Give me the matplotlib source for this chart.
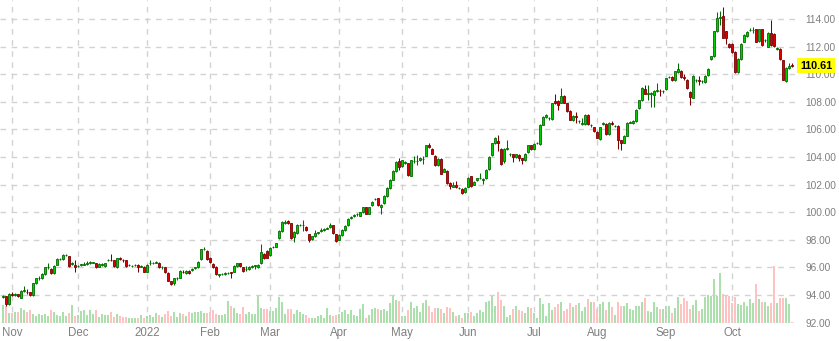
import numpy as np
import pandas as pd
import matplotlib
matplotlib.use('Agg')
import matplotlib.pyplot as plt
from matplotlib.transforms import blended_transform_factory

# daily OHLC (one value per weekday from 2021-10-27)
opens = [
    93.85, 93.90, 93.35, 94.10, 94.00, 94.05, 93.80, 94.30, 94.25, 94.20,
    94.00, 94.85, 95.20, 95.20, 95.50, 96.00, 95.90, 95.60, 96.20, 96.60,
    96.60, 96.90, 96.80, 96.25, 96.20, 96.10, 96.20, 96.20, 96.25, 96.35,
    96.35, 96.30, 96.05, 96.20, 96.10, 96.50, 96.55, 96.50, 96.00, 96.65,
    96.55, 96.50, 96.15, 96.10, 96.15, 96.20, 96.05, 96.05, 95.70, 96.30,
    96.30, 96.35, 96.35, 96.00, 96.00, 95.60, 95.00, 94.90, 95.20, 95.25,
    95.70, 95.60, 95.75, 95.80, 95.95, 96.00, 96.60, 97.30, 97.20, 96.70,
    96.25, 96.05, 95.45, 95.50, 95.50, 95.60, 95.65, 95.70, 96.10, 96.30,
    96.00, 95.85, 95.85, 96.05, 96.10, 96.00, 96.30, 97.00, 97.20, 96.90,
    97.45, 97.50, 98.10, 98.65, 99.25, 99.35, 99.20, 98.20, 98.50, 99.05,
    99.05, 98.95, 98.40, 98.05, 98.25, 98.50, 98.65, 98.70, 98.80, 98.90,
    99.05, 98.40, 98.00, 98.35, 98.70, 99.05, 99.60, 99.75, 99.85, 99.75,
    100.00, 100.35, 99.90, 100.50, 100.95, 101.00, 100.35, 100.65, 101.15, 101.75,
    102.35, 103.00, 103.70, 103.35, 103.60, 103.55, 102.65, 103.70, 103.70, 103.75,
    103.85, 104.10, 104.85, 104.60, 104.10, 103.40, 103.85, 102.95, 103.00, 102.15,
    101.85, 102.00, 101.75, 101.70, 101.45, 101.85, 102.60, 102.00, 102.30, 102.45,
    102.35, 102.45, 103.10, 104.15, 105.00, 105.15, 104.60, 103.70, 104.60, 104.20,
    104.20, 104.00, 104.15, 103.90, 103.75, 104.35, 104.85, 104.55, 105.00, 104.95,
    106.35, 106.90, 106.80, 106.75, 108.05, 108.05, 107.95, 108.45, 107.90, 107.35,
    106.65, 107.00, 106.60, 106.40, 106.40, 107.05, 106.30, 106.15, 105.80, 105.30,
    106.40, 106.40, 105.65, 106.50, 106.25, 106.25, 105.20, 105.05, 105.55, 106.50,
    106.45, 106.60, 107.55, 108.10, 108.90, 108.60, 108.60, 108.50, 108.80, 108.80,
    108.75, 108.90, 109.80, 109.80, 109.55, 110.15, 110.25, 109.80, 109.60, 108.70,
    108.30, 109.55, 109.55, 109.50, 109.45, 109.95, 111.10, 111.30, 113.10, 114.10,
    114.20, 113.10, 112.20, 112.20, 111.60, 110.15, 111.10, 112.35, 112.75, 113.20,
    113.20, 113.25, 112.40, 113.25, 112.45, 112.00, 113.00, 112.95, 111.85, 111.85,
    111.00, 109.50, 110.45, 110.65,
]
closes = [
    93.90, 93.35, 94.10, 94.00, 94.05, 93.95, 94.30, 94.30, 94.20, 94.00,
    94.85, 95.20, 95.25, 95.55, 96.00, 96.00, 95.60, 96.10, 96.60, 96.60,
    96.90, 96.90, 96.10, 96.30, 96.00, 96.10, 96.20, 96.25, 96.35, 96.35,
    96.35, 96.00, 96.25, 96.20, 96.30, 96.55, 96.50, 96.10, 96.65, 96.60,
    96.50, 96.10, 96.20, 96.10, 96.20, 96.00, 96.05, 95.70, 96.20, 96.30,
    96.35, 96.35, 96.00, 96.05, 95.65, 95.05, 94.80, 95.20, 95.25, 95.75,
    95.65, 95.75, 95.60, 95.90, 96.00, 96.40, 97.30, 97.35, 96.60, 96.40,
    96.00, 95.50, 95.50, 95.50, 95.60, 95.60, 95.60, 96.10, 96.30, 96.10,
    95.75, 95.85, 96.05, 96.05, 96.15, 96.20, 97.10, 96.70, 96.70, 97.40,
    97.45, 97.75, 98.65, 99.30, 99.25, 99.20, 98.10, 98.60, 99.10, 99.05,
    99.05, 98.70, 98.00, 98.25, 98.50, 98.50, 98.65, 98.80, 98.80, 99.10,
    98.50, 97.90, 98.35, 98.70, 99.00, 99.50, 99.60, 99.75, 99.85, 100.00,
    100.35, 99.90, 100.35, 100.75, 100.95, 100.50, 100.55, 101.20, 101.75, 102.35,
    103.00, 103.65, 103.25, 103.75, 103.60, 102.70, 103.75, 103.70, 103.70, 103.95,
    103.85, 104.85, 104.70, 104.25, 103.40, 103.85, 102.80, 103.15, 102.10, 101.90,
    102.00, 101.80, 101.75, 101.40, 101.75, 102.50, 101.90, 102.20, 102.45, 102.45,
    102.35, 103.05, 104.00, 105.00, 105.40, 105.00, 103.50, 104.60, 104.60, 104.20,
    104.00, 104.20, 103.95, 103.75, 104.25, 104.85, 104.55, 104.95, 105.00, 106.35,
    106.90, 107.05, 106.80, 107.90, 107.90, 107.75, 108.45, 107.95, 107.30, 106.70,
    107.00, 106.90, 106.60, 106.40, 107.05, 106.40, 106.30, 105.85, 105.40, 106.15,
    106.40, 105.65, 106.50, 106.40, 106.25, 105.20, 105.00, 105.55, 106.50, 106.50,
    106.60, 107.40, 108.10, 109.00, 108.60, 108.60, 108.60, 108.80, 108.80, 108.75,
    108.75, 109.70, 109.80, 109.55, 110.20, 110.40, 109.80, 109.75, 109.00, 108.35,
    109.90, 109.55, 109.50, 109.50, 109.90, 110.40, 111.30, 113.10, 114.10, 114.10,
    112.65, 112.60, 111.95, 111.60, 110.15, 111.10, 112.20, 112.85, 113.05, 113.20,
    113.20, 112.35, 113.25, 112.10, 112.45, 113.00, 112.10, 112.05, 111.85, 111.10,
    109.60, 110.45, 110.60, 110.61,
]
highs = [
    94.00, 93.95, 94.15, 94.20, 94.15, 94.10, 94.35, 94.65, 94.40, 94.25,
    94.90, 95.25, 95.35, 95.60, 96.05, 96.30, 95.95, 96.15, 96.65, 96.70,
    96.95, 96.95, 96.85, 96.40, 96.55, 96.20, 96.25, 96.40, 96.45, 96.45,
    96.40, 96.35, 96.30, 96.30, 96.35, 96.60, 96.95, 96.55, 96.70, 96.75,
    96.60, 96.55, 96.25, 96.20, 96.25, 96.25, 96.15, 96.10, 96.25, 96.50,
    96.40, 96.45, 96.40, 96.10, 96.05, 95.65, 95.05, 95.25, 95.30, 95.80,
    95.80, 95.80, 95.80, 95.95, 96.05, 96.45, 97.35, 97.45, 97.25, 96.75,
    96.30, 96.10, 95.55, 95.60, 95.65, 95.65, 95.70, 96.15, 96.35, 96.35,
    96.05, 96.10, 96.10, 96.15, 96.20, 96.25, 97.70, 97.05, 97.25, 97.45,
    97.55, 97.80, 98.70, 99.35, 99.40, 99.40, 99.25, 98.65, 99.15, 99.15,
    99.40, 99.00, 98.45, 98.30, 98.70, 98.60, 98.85, 98.85, 98.90, 99.20,
    99.10, 98.45, 98.40, 98.75, 99.05, 99.55, 99.70, 99.85, 99.95, 100.05,
    100.40, 100.40, 100.40, 100.80, 101.05, 101.05, 100.60, 101.25, 101.80, 102.40,
    103.05, 103.70, 103.90, 103.80, 103.70, 103.60, 103.80, 104.10, 104.15, 104.00,
    104.10, 104.90, 105.00, 104.65, 104.15, 103.90, 103.90, 103.20, 103.05, 102.20,
    102.20, 102.25, 101.85, 101.75, 101.80, 102.55, 102.65, 102.25, 102.50, 102.85,
    102.45, 103.10, 104.05, 105.05, 105.45, 105.60, 104.65, 104.65, 105.20, 104.30,
    104.25, 104.25, 104.20, 103.95, 104.30, 104.90, 104.90, 105.00, 105.10, 106.40,
    106.95, 107.10, 106.90, 107.95, 108.60, 108.10, 109.00, 108.50, 107.95, 107.40,
    107.05, 107.25, 106.70, 106.80, 107.10, 107.10, 106.40, 106.20, 105.85, 106.20,
    106.55, 106.45, 106.55, 106.60, 106.35, 106.30, 105.25, 105.60, 106.55, 106.60,
    106.65, 107.45, 108.15, 109.05, 109.20, 109.20, 108.70, 108.85, 109.40, 108.90,
    108.85, 109.75, 109.90, 109.85, 110.25, 110.80, 110.30, 110.00, 109.65, 108.75,
    109.95, 109.65, 109.90, 109.60, 109.95, 110.45, 111.35, 113.15, 114.50, 114.60,
    114.85, 113.15, 112.25, 112.25, 111.65, 111.15, 112.25, 112.90, 113.10, 113.35,
    113.40, 113.30, 113.30, 113.30, 112.55, 113.05, 113.90, 113.00, 112.00, 111.90,
    111.05, 110.50, 110.85, 110.80,
]
lows = [
    93.75, 93.20, 93.30, 93.95, 93.95, 93.85, 93.75, 94.20, 94.10, 93.95,
    93.95, 94.80, 95.10, 95.15, 95.45, 95.90, 95.55, 95.55, 96.15, 96.50,
    96.55, 96.80, 96.05, 96.15, 95.65, 96.00, 96.10, 96.15, 96.20, 96.25,
    96.30, 95.95, 96.00, 96.10, 96.05, 96.45, 96.45, 96.05, 95.95, 96.55,
    96.40, 96.05, 96.10, 96.05, 96.10, 95.70, 96.00, 95.65, 95.65, 96.20,
    96.25, 96.30, 95.95, 95.90, 95.60, 95.00, 94.75, 94.70, 95.10, 95.20,
    95.60, 95.55, 95.55, 95.75, 95.90, 95.95, 96.55, 97.25, 96.55, 96.35,
    95.95, 95.45, 95.30, 95.45, 95.45, 95.55, 95.20, 95.65, 96.05, 96.05,
    95.70, 95.75, 95.80, 95.95, 95.85, 95.95, 96.25, 96.60, 96.65, 96.85,
    97.40, 97.45, 98.05, 98.60, 99.15, 99.15, 98.05, 97.85, 98.45, 99.00,
    98.65, 98.65, 97.85, 97.95, 98.20, 98.40, 98.55, 98.65, 98.75, 98.85,
    98.45, 97.85, 97.95, 98.30, 98.65, 99.00, 99.50, 99.65, 99.75, 99.70,
    99.95, 99.85, 99.85, 100.45, 100.85, 100.45, 99.85, 100.60, 101.10, 101.70,
    102.30, 102.95, 103.05, 103.30, 103.50, 102.65, 102.60, 103.60, 103.45, 103.70,
    103.50, 104.05, 104.65, 104.20, 103.35, 103.35, 102.75, 102.90, 102.05, 101.70,
    101.80, 101.75, 101.70, 101.35, 101.40, 101.80, 101.85, 101.95, 102.25, 102.40,
    102.05, 102.40, 103.05, 104.10, 104.95, 104.40, 103.40, 103.55, 104.50, 104.10,
    103.65, 103.95, 103.70, 103.50, 103.70, 104.30, 104.50, 104.50, 104.95, 104.90,
    106.30, 106.85, 106.70, 106.70, 107.85, 107.40, 107.90, 107.90, 107.25, 106.65,
    106.60, 106.50, 106.50, 106.30, 106.35, 106.35, 106.20, 105.80, 105.35, 105.25,
    106.30, 105.60, 105.60, 106.35, 106.15, 104.60, 104.50, 105.00, 105.50, 106.45,
    106.40, 106.55, 107.50, 108.05, 108.55, 108.10, 107.60, 107.65, 108.70, 108.40,
    108.65, 108.85, 109.70, 109.50, 109.50, 110.10, 109.75, 109.60, 108.95, 107.80,
    108.25, 109.45, 109.20, 109.40, 109.40, 109.90, 111.00, 111.25, 113.05, 113.60,
    112.60, 112.20, 111.90, 111.55, 110.10, 110.10, 111.05, 112.30, 112.70, 113.10,
    113.00, 112.30, 112.35, 112.05, 112.35, 111.95, 112.05, 112.00, 111.75, 111.05,
    109.55, 109.45, 110.40, 110.55,
]
volumes = [
    18, 17, 10, 10, 11, 11, 15, 13, 11, 13, 9, 7, 9, 8, 9, 7, 13, 11, 8, 7,
    11, 7, 10, 18, 7, 8, 12, 13, 8, 13, 9, 13, 6, 9, 8, 8, 11, 6, 9, 7,
    6, 6, 5, 5, 5, 5, 8, 5, 7, 8, 6, 10, 8, 6, 9, 12, 7, 11, 6, 10,
    9, 7, 11, 10, 11, 11,
    12, 10, 10, 11, 13, 9, 8, 8, 9, 22, 17, 15, 10, 9, 16, 9, 11, 9, 9, 27,
    15, 14, 14, 12, 12, 15, 26, 21, 9, 14, 14, 9, 13, 11, 9, 8, 5, 5, 5, 7,
    8, 5, 15, 8, 7, 8, 9, 11, 13, 9, 13, 8, 7, 14, 19, 5, 8, 14, 15, 14,
    13, 14, 12, 20, 27, 23,
    22, 7, 7, 13, 21, 15, 17, 11, 20, 23, 17, 11, 15, 15, 14, 10, 16, 15, 11, 7,
    8, 5, 10, 10, 11, 7, 10, 13, 11, 21, 22, 27, 17, 31, 23, 17, 6, 8, 14, 17,
    13, 12, 10, 16, 15, 10, 5, 25, 19, 7, 20, 13, 16, 19, 21, 12, 14, 20, 16, 18,
    20, 12, 16, 24, 21, 21, 14, 19, 21, 13, 21, 16, 8, 21, 17, 17, 20, 14,
    13, 17, 17, 21, 25, 12, 11, 21, 16, 14, 14, 17, 17, 10, 15, 26, 19, 25, 22, 14,
    18, 23, 12, 14, 26, 28, 27, 44, 27, 50, 29, 27, 27, 20, 26, 19, 18, 21, 17, 24,
    20, 39, 24, 21, 21, 17, 20, 57, 20, 25, 25, 25, 19, 1,
]
last_price = 110.61
start_day = '2021-10-27'

plt.rcParams['font.family'] = ['Liberation Sans', 'DejaVu Sans']

o = np.array(opens)
c = np.array(closes)
h = np.array(highs)
l = np.array(lows)
v = np.array(volumes, dtype=float)
x = np.arange(len(c))
dates = pd.bdate_range(start_day, periods=len(c))
up = c >= o

fig = plt.figure(figsize=(8.39, 3.41), dpi=100)
ax = fig.add_axes([0.0, 0.054, 797 / 839, 0.946])
vol_ax = ax.twinx()
ax.set_zorder(vol_ax.get_zorder() + 1)
ax.patch.set_visible(False)

# volume bars along the bottom
vol_colors = np.where(up, '#abdfab', '#ffc2c2')
vol_ax.bar(x, v, width=0.9, color=vol_colors, linewidth=0)
vol_ax.set_ylim(0, v.max() * 5.7)
vol_ax.axis('off')

# candles
edge = np.where(up, '#006a00', '#7a0000')
face = np.where(up, '#00cc00', '#dd0000')
ax.vlines(x, l, h, colors=edge, linewidth=0.75, zorder=3)
ax.bar(x, np.maximum(np.abs(c - o), 0.03), bottom=np.minimum(o, c),
       width=0.72, color=face, edgecolor=edge, linewidth=0.6, zorder=4)

ax.set_xlim(-1, len(c) + 0.67)
ax.set_ylim(92, 115.38)

# month ticks at the first weekday of each month
months = dates.to_period('M')
firsts = [i for i in range(1, len(dates)) if months[i] != months[i - 1]]
labels = ['2022' if dates[i].month == 1 else dates[i].strftime('%b') for i in firsts]
ax.set_xticks(firsts)
ax.set_xticklabels(labels)
ax.set_yticks(np.arange(92, 115, 2))
ax.set_yticklabels([f'{t:.2f}' for t in np.arange(92, 115, 2)])
ax.yaxis.tick_right()

ax.grid(True, color='#d2d2d2', linestyle=(0, (4, 4)), linewidth=1.0)
ax.set_axisbelow(True)
for s in ax.spines.values():
    s.set_visible(False)
ax.tick_params(axis='both', length=0, labelsize=7.3, colors='#7f7f7f')
ax.tick_params(axis='x', labelsize=8.3, pad=3)
ax.tick_params(axis='y', pad=6)

# last price marker
tr = blended_transform_factory(ax.transAxes, ax.transData)
ax.text(1.0 + 3 / 797, last_price, f'{last_price:.2f}', transform=tr,
        ha='left', va='center', fontsize=7.8, fontweight='bold', color='black',
        bbox=dict(facecolor='#ffff00', edgecolor='none', pad=1.9), zorder=10)

fig.savefig('out.png', dpi=100)
